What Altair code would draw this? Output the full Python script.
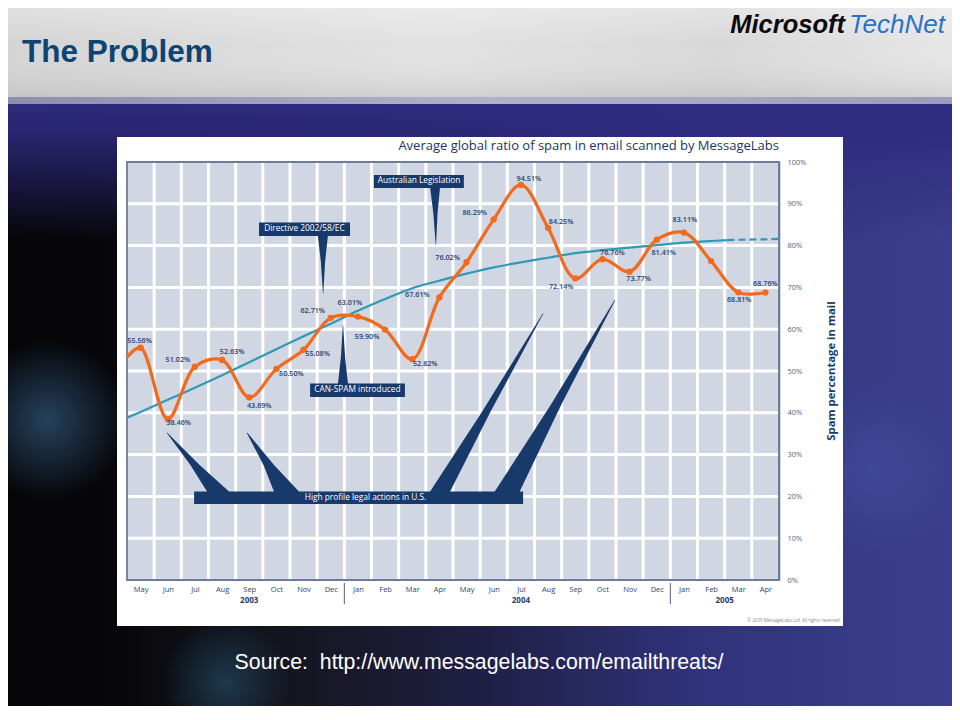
import altair as alt
import pandas as pd

# ---------------- data ----------------
months = ["May", "Jun", "Jul", "Aug", "Sep", "Oct", "Nov", "Dec", "Jan", "Feb", "Mar", "Apr",
          "May", "Jun", "Jul", "Aug", "Sep", "Oct", "Nov", "Dec", "Jan", "Feb", "Mar", "Apr"]
spam_pct = [55.56, 38.46, 51.02, 52.63, 43.69, 50.50, 55.08, 62.71, 63.01, 59.90, 52.82, 67.61,
            76.02, 86.29, 94.51, 84.25, 72.14, 76.76, 73.77, 81.41, 83.11, 76.3, 68.81, 68.76]
show_label = [True] * 21 + [False] + [True, True]
curve_entry_pct = 53.3          # orange curve value where it enters at the left edge

trend_idx = [-0.5, 0, 1, 2, 3, 4, 5, 6, 7, 8, 9, 10, 11, 12, 13, 14, 15, 16, 17, 18, 19, 20, 21, 21.6]
trend_pct = [38.8, 40.2, 43.1, 46.0, 49.0, 52.1, 55.2, 58.3, 61.3, 64.4, 67.2, 69.8, 71.6, 73.3,
             74.8, 76.0, 77.1, 78.2, 78.9, 79.5, 80.1, 80.7, 81.1, 81.3]
trend_dash_idx = [21.6, 22, 23, 23.5]
trend_dash_pct = [81.3, 81.4, 81.5, 81.6]

years = ["2003", "2004", "2005"]
year_center_idx = [4, 14, 21.5]
year_break_idx = [7.5, 19.5]
y_ticks = list(range(0, 101, 10))

# annotation callouts (in chart data units)
box_text = ["Australian  Legislation", "Directive 2002/58/EC", "CAN-SPAM introduced",
            "High profile legal actions in U.S."]
box_x1 = [8.59, 4.36, 6.24, 1.97]
box_x2 = [11.90, 7.71, 9.73, 14.08]
box_y1 = [96.9, 85.5, 47.0, 21.2]
box_y2 = [93.8, 82.3, 43.8, 18.2]
box_tx = [10.25, 6.03, 7.98, 8.28]
box_ty = [95.35, 83.9, 45.4, 19.7]

# pointers: tip and base (where they meet the box)
ptr_tip_x = [10.87, 6.72, 7.45, 0.97, 3.92, 14.82, 17.46]
ptr_tip_y = [80.1, 68.5, 61.0, 35.2, 35.2, 63.8, 67.0]
ptr_base_x = [10.84, 6.71, 7.45, 2.85, 5.37, 11.02, 13.49]
ptr_base_y = [94.0, 82.3, 47.0, 21.2, 21.2, 21.1, 21.1]
ptr_base_w = [10, 10, 10, 22, 25, 20, 25]   # horizontal width at base, px

# label placement offsets (px) relative to each point
label_dx = [-1, 11, -17, 10, 10, 15, 14, -18, -8, -18, 13, -22,
            -19, -19, 8, 13, -14, 10, 9, 7, 1, 0, 1, 0]
label_dy = [-7, 4, -7, -8, 9, 5, 4, -7, -14, 7, 5, -2,
            -4, -6, -6, -6, 9, -6, 7, 13, -13, 0, 8, -9]

# ---------------- layout ----------------
W, H = 652, 418
PAD_L, PAD_T = 119, 154
TOT_W, TOT_H = 944, 698
OX, OY = 127, 162          # page position of plot origin
COLW = W / 24.0
PXPCT = H / 100.0

ORANGE = "#f26b1d"
TEAL = "#2f9ab6"
NAVY = "#183a6b"
FONT = "Open Sans"

xscale = alt.Scale(domain=[-0.5, 23.5], nice=False, zero=False)
yscale = alt.Scale(domain=[0, 100], nice=False, zero=True)
month_expr = "[" + ",".join("'%s'" % m for m in months) + "][datum.value]"
xaxis = alt.Axis(values=list(range(24)), labelExpr=month_expr, title=None, grid=False,
                 ticks=False, domain=False, labelFont=FONT, labelFontSize=7.5,
                 labelColor="#34446a", labelPadding=5, labelFlush=False,
                 labelOverlap=False, zindex=2)
yaxis = alt.Axis(values=y_ticks, labelExpr="datum.value + '%'", orient="right", title=None,
                 grid=False, ticks=False, domain=True, domainColor="#64769a",
                 domainWidth=1.5, labelFont=FONT, labelFontSize=7.5,
                 labelColor="#4d5f88", labelPadding=8, labelAlign="left", zindex=2)


def X(f):
    return alt.X(f, type="quantitative", scale=xscale, axis=xaxis)


def Y(f):
    return alt.Y(f, type="quantitative", scale=yscale, axis=yaxis)


one = pd.DataFrame({"k": [0]})


def lg(stops, x1=0, y1=0, x2=1, y2=0):
    return alt.LinearGradient(gradient="linear",
                              stops=[alt.GradientStop(offset=o, color=c) for o, c in stops],
                              x1=x1, y1=y1, x2=x2, y2=y2)


def rg(stops):
    return alt.RadialGradient(gradient="radial",
                              stops=[alt.GradientStop(offset=o, color=c) for o, c in stops],
                              x1=0.5, y1=0.5, r1=0, x2=0.5, y2=0.5, r2=0.5)


def page_rect(x1, y1, x2, y2, **kw):
    return alt.Chart(one).mark_rect(**kw).encode(
        x=alt.value(x1 - OX), x2=alt.value(x2 - OX),
        y=alt.value(y1 - OY), y2=alt.value(y2 - OY))


def page_text(txt, x, y, **kw):
    return alt.Chart(one).mark_text(text=txt, **kw).encode(
        x=alt.value(x - OX), y=alt.value(y - OY))


# ---------------- slide decoration ----------------
bg = page_rect(0, 95, 960, 720, fill=lg([(0, "#050507"), (0.12, "#07070b"), (0.3, "#15151f"),
                                          (0.5, "#1f1f44"), (0.72, "#30327a"), (1, "#3b3f8c")]))
top_band = page_rect(0, 100, 960, 240, fill=lg([(0, "rgba(46,42,128,1)"), (0.25, "rgba(46,42,128,0.85)"),
                                                 (1, "rgba(46,42,128,0)")], 0, 0, 0, 1))
glow1 = page_rect(-30, 340, 125, 500, fill=rg([(0, "rgba(46,80,115,0.8)"), (1, "rgba(46,80,115,0)")]))
glow2 = page_rect(160, 625, 290, 740, fill=rg([(0, "rgba(40,90,120,0.55)"), (1, "rgba(40,90,120,0)")]))
glow3 = page_rect(780, 380, 960, 560, fill=rg([(0, "rgba(80,100,190,0.3)"), (1, "rgba(80,100,190,0)")]))
banner = page_rect(0, 0, 960, 99, fill=lg([(0, "#d3d3d3"), (0.45, "#e2e2e2"), (0.75, "#d8d8d8"),
                                            (1, "#e6e6e6")]))
banner_shade = page_rect(0, 0, 960, 99, fill=lg([(0, "rgba(255,255,255,0.35)"), (0.45, "rgba(255,255,255,0)"),
                                                  (1, "rgba(150,150,150,0.25)")], 0, 0, 0, 1))
strip = page_rect(0, 97, 960, 104, fill=lg([(0, "#8e8cab"), (0.5, "#b3b1c9"), (1, "#9d9bbb")]))
panel = page_rect(117, 137, 843, 626, fill="#ffffff")

slide_title = page_text("The Problem", 22, 53, font="Liberation Sans", fontSize=31.5,
                        fontWeight="bold", color="#0d4471", align="left", baseline="middle")
logo1 = page_text("Microsoft", 845, 33, font="Liberation Sans", fontSize=25.5, fontWeight="bold",
                  fontStyle="italic", color="#0a0a0a", align="right", baseline="alphabetic")
logo2 = page_text("TechNet", 849, 33, font="Liberation Sans", fontSize=26,
                  fontStyle="italic", color="#2a72c9", align="left", baseline="alphabetic")
source = page_text("Source:\u00a0 http://www.messagelabs.com/emailthreats/", 479, 669,
                   font="Liberation Sans", fontSize=21.3, color="#ffffff", align="center",
                   baseline="alphabetic")
chart_title = page_text("Average global ratio of spam in email scanned by MessageLabs", 779, 150,
                        font=FONT, fontSize=13, fontWeight=500, color="#1b3566", align="right",
                        baseline="alphabetic")
copyright_t = page_text("\u00a9 2005 MessageLabs Ltd. All rights reserved.", 841, 621,
                        font=FONT, fontSize=4.5, color="#8a8a8a", align="right",
                        baseline="middle")
y_title = page_text("Spam percentage in mail", 832, 371, font=FONT, fontSize=11.3,
                    fontWeight="bold", color="#1d3a6a", angle=270, align="center",
                    baseline="middle")

# ---------------- chart ----------------
plot_bg = alt.Chart(pd.DataFrame({"a": [-0.5], "b": [23.5], "c": [0], "d": [100]})).mark_rect(
    fill="#d0d6e2").encode(x=X("a"), x2="b", y=Y("c"), y2="d")
vgrid = alt.Chart(pd.DataFrame({"g": [i + 0.5 for i in range(23)]})).mark_rule(
    color="#ffffff", strokeWidth=3).encode(x=X("g"))
hgrid = alt.Chart(pd.DataFrame({"g": y_ticks[1:-1]})).mark_rule(
    color="#ffffff", strokeWidth=3).encode(y=Y("g"))
frame = alt.Chart(pd.DataFrame({"a": [-0.5], "b": [23.5], "c": [0], "d": [100]})).mark_rect(
    fillOpacity=0, stroke="#6d7c9d", strokeWidth=1.8).encode(x=X("a"), x2="b", y=Y("c"), y2="d")

# pointer wedges: horizontal cross-sections, tapering to the tip
rows = []
for i in range(len(ptr_tip_x)):
    bx, by, tx, ty = ptr_base_x[i], ptr_base_y[i], ptr_tip_x[i], ptr_tip_y[i]
    hw = ptr_base_w[i] / 2.0 / COLW
    into_box = -5.0 / PXPCT if ty > by else 5.0 / PXPCT
    for o, (t, f) in enumerate([(None, 1.0), (0.0, 1.0), (0.45, 0.42), (1.0, 0.03)]):
        if t is None:
            cx, cy = bx, by + into_box
        else:
            cx, cy = bx + (tx - bx) * t, by + (ty - by) * t
        rows.append({"id": i, "o": o, "y": cy, "xl": cx - hw * f, "xr": cx + hw * f})
ptr_df = pd.DataFrame(rows)
pointers = alt.Chart(ptr_df).mark_area(color=NAVY, orient="horizontal").encode(
    y=Y("y"), x=X("xl"), x2="xr", detail="id:N")

box_df = pd.DataFrame({"t": box_text, "x1": box_x1, "x2": box_x2, "y1": box_y1, "y2": box_y2,
                       "tx": box_tx, "ty": box_ty})
boxes = alt.Chart(box_df).mark_rect(color=NAVY).encode(x=X("x1"), x2="x2", y=Y("y1"), y2="y2")
box_labels = alt.Chart(box_df).mark_text(font=FONT, fontSize=8.3, color="#ffffff",
                                         baseline="middle").encode(
    x=X("tx"), y=Y("ty"), text="t:N")

trend_df = pd.DataFrame({"x": trend_idx, "y": trend_pct})
trend = alt.Chart(trend_df).mark_line(color=TEAL, strokeWidth=2.2, interpolate="monotone").encode(
    x=X("x"), y=Y("y"))
trend_dash_df = pd.DataFrame({"x": trend_dash_idx, "y": trend_dash_pct})
trend_dash = alt.Chart(trend_dash_df).mark_line(color=TEAL, strokeWidth=2.2,
                                                strokeDash=[7, 4]).encode(x=X("x"), y=Y("y"))

main_df = pd.DataFrame({
    "x": list(range(24)),
    "v": spam_pct,
    "lab": ["%.2f%%" % v if s else "" for v, s in zip(spam_pct, show_label)],
})
main_df["lx"] = main_df["x"] + pd.Series(label_dx) / COLW
main_df["ly"] = main_df["v"] - pd.Series(label_dy) / PXPCT

curve_df = pd.DataFrame({"x": [-0.5] + list(range(24)), "v": [curve_entry_pct] + spam_pct})
curve = alt.Chart(curve_df).mark_line(color=ORANGE, strokeWidth=3.2,
                                      interpolate="catmull-rom").encode(x=X("x"), y=Y("v"))
dots = alt.Chart(main_df).mark_circle(color=ORANGE, size=40, opacity=1).encode(
    x=X("x"), y=Y("v"))
labels = alt.Chart(main_df).mark_text(font=FONT, fontSize=7.2, fontWeight=600,
                                      color="#2c3e6b", baseline="middle").encode(
    x=X("lx"), y=Y("ly"), text="lab:N")

year_df = pd.DataFrame({"x": year_center_idx, "t": years})
year_labels = alt.Chart(year_df).mark_text(font=FONT, fontSize=8, fontWeight="bold",
                                           color="#2c3a5e", baseline="middle").encode(
    x=X("x"), y=alt.value(601 - OY), text="t:N")
year_breaks = alt.Chart(pd.DataFrame({"x": year_break_idx})).mark_rule(
    color="#55607a", strokeWidth=1).encode(x=X("x"), y=alt.value(583 - OY), y2=alt.value(604 - OY))

chart = alt.layer(
    bg, top_band, glow1, glow2, glow3, banner, banner_shade, strip, panel,
    plot_bg, vgrid, hgrid, pointers, boxes, frame, trend, trend_dash, curve, dots, labels,
    box_labels, year_labels, year_breaks, chart_title, copyright_t, y_title,
    slide_title, logo1, logo2, source,
).properties(
    width=W, height=H,
    autosize=alt.AutoSizeParams(type="none"),
    padding={"left": PAD_L, "top": PAD_T, "right": TOT_W - PAD_L - W, "bottom": TOT_H - PAD_T - H},
).configure_view(stroke=None).configure(background="#000000")

chart.save("out.html", embed_options={"renderer": "svg", "actions": False})
